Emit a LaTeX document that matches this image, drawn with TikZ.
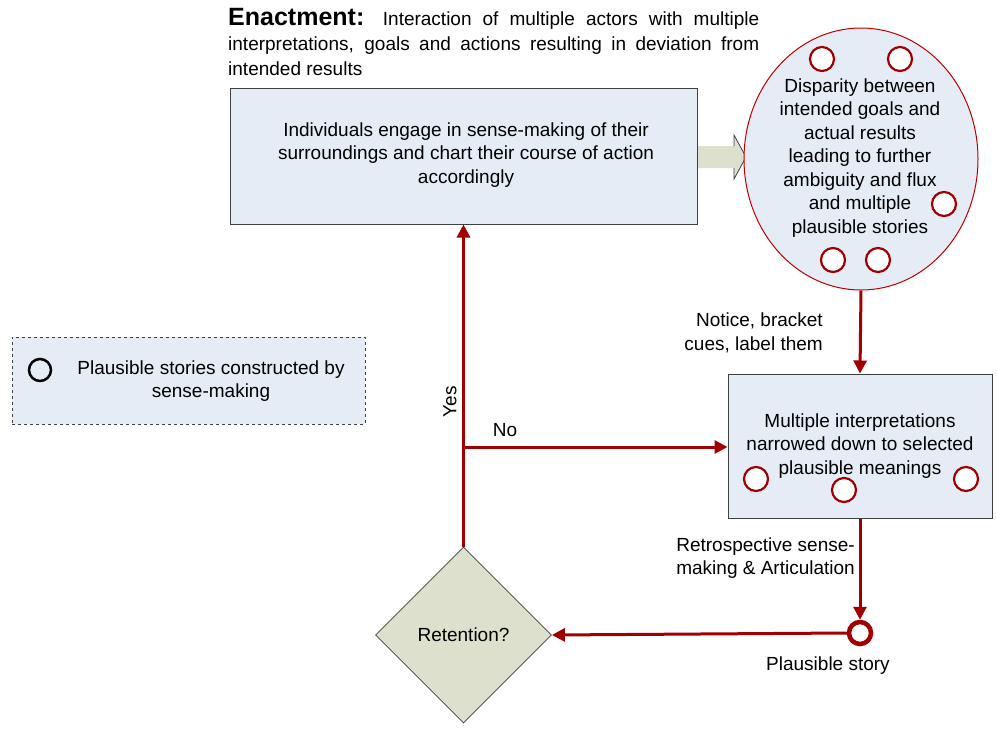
\documentclass[tikz,border=0pt]{standalone}
\usepackage{fontspec}
\setmainfont{Liberation Sans}
\usetikzlibrary{shapes.geometric,arrows.meta,calc}
\definecolor{boxfill}{RGB}{230,236,246}
\definecolor{olivefill}{RGB}{221,224,204}
\definecolor{darkred}{RGB}{160,0,0}
\definecolor{ellred}{RGB}{192,0,0}
\definecolor{bordergray}{RGB}{64,64,64}
\tikzset{
  txt/.style={font=\fontsize{19}{23.5}\selectfont, inner sep=0pt, align=center},
  bluebox/.style={draw=bordergray, line width=1pt, fill=boxfill, inner sep=0pt},
  story/.style={circle, draw=darkred, line width=2.2pt, fill=white, minimum size=24pt, inner sep=0pt},
  redarrow/.style={draw=darkred, line width=3pt, -{Triangle[length=13pt,width=13pt]}},
}
\begin{document}
\begin{tikzpicture}[x=1pt,y=-1pt]
\useasboundingbox (0,0) rectangle (997,729);
% header text
\node[anchor=north west, inner sep=0pt, text width=531pt, align=justify,
      font=\fontsize{19}{25}\selectfont] (head) at (228,8)
  {\hyphenpenalty=10000 {\fontsize{25}{25}\selectfont\bfseries Enactment:} Interaction of multiple actors with multiple\linebreak interpretations, goals and actions resulting in deviation from\linebreak intended results};
% main box
\node[bluebox, minimum width=467pt, minimum height=136pt] (main) at (463.5,156) {};
\node[txt] (maintxt) at (466,155) {Individuals engage in sense-making of their\\surroundings and chart their course of action\\accordingly};
% block arrow
\fill[olivefill] (698,146) -- (734,146) -- (734,135) -- (746,157) -- (734,179) -- (734,168) -- (698,168) -- cycle;
\draw[bordergray, line width=0.8pt] (734,146) -- (734,135) -- (746,157) -- (734,179) -- (734,168);
% ellipse
\node[ellipse, draw=ellred, line width=1pt, fill=boxfill, minimum width=234pt, minimum height=262pt, inner sep=0pt] (ell) at (861,159) {};
\node[txt] (elltxt) at (860,158) {Disparity between\\intended goals and\\actual results\\leading to further\\ambiguity and flux\\and multiple\\plausible stories};
\node[story] (e1) at (822,59) {};
\node[story] (e2) at (900,59) {};
\node[story] (e3) at (944,204) {};
\node[story] (e4) at (833,260) {};
\node[story] (e5) at (878,260) {};
% second box
\node[bluebox, minimum width=264pt, minimum height=144pt] (box2) at (860,446) {};
\node[txt] (box2txt) at (860,446) {Multiple interpretations\\narrowed down to selected\\plausible meanings};
\node[story] (b1) at (756,479) {};
\node[story] (b2) at (844,490) {};
\node[story] (b3) at (966,479) {};
% plausible story
\node[circle, draw=darkred, line width=4.5pt, fill=white, minimum size=22pt, inner sep=0pt] (ps) at (860,633) {};
\node[txt, anchor=north] (pslbl) at (828,657) {Plausible story};
% diamond
\node[diamond, draw=bordergray, line width=0.8pt, fill=olivefill, minimum width=176pt, minimum height=176pt, inner sep=0pt, aspect=1] (dia) at (463.5,635) {};
\node[txt] (diatxt) at (463.5,635) {Retention?};
% legend
\node[draw=bordergray, dashed, line width=0.8pt, fill=boxfill, minimum width=353pt, minimum height=87pt, inner sep=0pt] (legend) at (188.5,380.5) {};
\node[circle, draw=black, line width=2.5pt, minimum size=22pt, inner sep=0pt] (legc) at (40,370) {};
\node[txt] (legtxt) at (211,381) {Plausible stories constructed by\\sense-making};
% connectors
\draw[redarrow] (ell.south) -- (box2.north);
\node[txt, anchor=east, align=right] (lbl1) at (823,333) {Notice, bracket\\cues, label them};
\draw[redarrow] (box2.south) -- (ps.north);
\node[txt, anchor=east, align=right] (lbl2) at (855,558) {Retrospective sense-\\making \& Articulation};
\draw[redarrow] (ps.west) -- (dia.east);
\draw[redarrow] (dia.north) -- (dia.north |- main.south);
\coordinate (br) at (463.5,447);
\draw[redarrow] (br) -- (br -| box2.west);
\node[txt, rotate=90] (yes) at (450,402) {Yes};
\node[txt] (no) at (505,430) {No};
\end{tikzpicture}
\end{document}
